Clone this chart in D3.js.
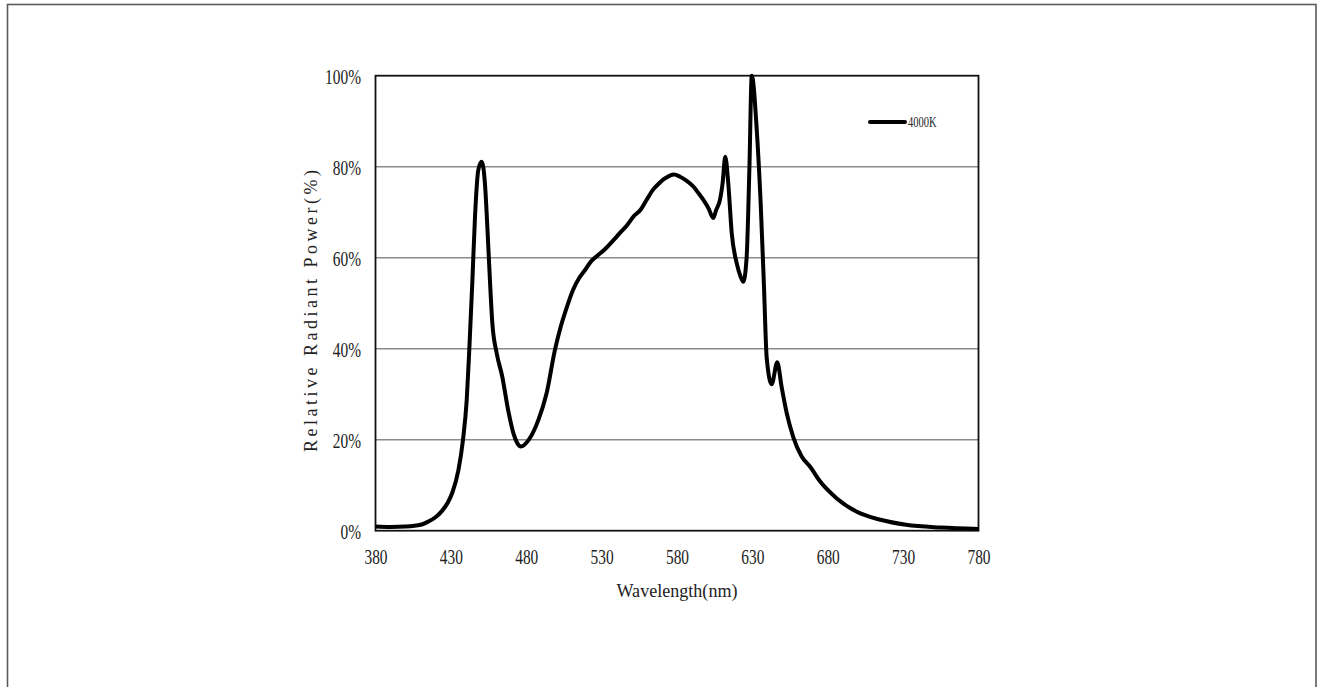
<html>
<head>
<meta charset="utf-8">
<style>
    body { margin: 0; background: #fff; }
    svg { display: block; }
    .grid line { stroke: #8a8a8a; stroke-width: 1.5; }
    .axis .domain { display: none; }
    .axis text { font-family: 'Liberation Serif', 'DejaVu Serif', serif; font-size: 22px; fill: #222; }
</style>
</head>
<body>
<svg width="1320" height="687"></svg>

<script src="https://d3js.org/d3.v7.min.js"></script>
<script>

    // spectrum: wavelength (nm) and relative power (%)
    let wavelength = [380, 390, 400, 410, 415, 420, 424, 428, 431, 435, 438, 440.5, 442.2, 444.2, 446, 448.2, 450.4,
        452.6, 454.4, 456, 457.5, 460.4, 464, 468, 471.5, 474, 476.5, 481.5, 488, 493.5, 499, 503, 507, 511,
        515, 519, 523, 527, 532, 538, 542, 547, 551, 556, 560, 564, 568, 571, 575, 578, 582, 586, 591, 594,
        597.5, 601, 604, 606, 608.5, 610.3, 612, 614, 616.3, 619.6, 622, 624, 626.2, 628, 629.6, 632.9, 635.5,
        637.7, 639.5, 642.8, 646.5, 649.4, 652.8, 657, 662.7, 668.2, 675, 686, 699, 715, 732, 755, 780]
    let power = [0.9, 0.8, 0.9, 1.3, 2.0, 3.0, 4.3, 6.2, 8.4, 13.3, 19.9, 28.7, 39.7, 54.4, 69, 79.3, 81.1,
        76.3, 65.4, 54.4, 45.6, 39, 34, 26.5, 21.4, 19.3, 18.5, 19.9, 24.3, 30.2, 39.7, 45, 49.2, 52.9,
        55.5, 57.3, 59.2, 60.4, 61.8, 63.9, 65.4, 67.2, 69, 70.6, 72.8, 74.9, 76.3, 77.2, 78, 78.3, 77.8, 77, 75.6, 74.3,
        72.7, 70.8, 68.7, 70.5, 72.7, 76.5, 82.2, 76.4, 65.4, 58.8, 56, 54.7, 60.2, 79.3, 100, 88.1, 72,
        53.6, 38, 32.2, 37, 31.6, 25.8, 20.7, 16.3, 14.1, 10.8, 7.1, 4.2, 2.4, 1.3, 0.7, 0.4]

    let xTicks = [380, 430, 480, 530, 580, 630, 680, 730, 780]
    let yTicks = [0, 20, 40, 60, 80, 100]
    let seriesName = "4000K"

    let data = wavelength.map((w, i) => ({ w: w, p: power[i] }))

    let svg = d3.select("svg")
    let margin = { top: 75.7, right: 341.5, bottom: 156.3, left: 375.5 }
    let width = 1320, height = 687
    let squeeze = 0.7

    // outer frame
    svg.append("rect")
        .attr("x", 7.5).attr("y", 4.5)
        .attr("width", 1308.5).attr("height", 700)
        .attr("fill", "none")
        .attr("stroke", "#5a5a5a")
        .attr("stroke-width", 1.6)

    let x = d3.scaleLinear()
        .domain([380, 780])
        .range([margin.left, width - margin.right])

    let y = d3.scaleLinear()
        .domain([0, 100])
        .range([height - margin.bottom, margin.top])

    // horizontal grid
    svg.append("g")
        .attr("class", "grid")
        .selectAll("line")
        .data(yTicks.filter(d => d > 0 && d < 100))
        .join("line")
        .attr("x1", x(380)).attr("x2", x(780))
        .attr("y1", d => y(d)).attr("y2", d => y(d))

    let xAxis = svg.append("g")
        .attr("class", "x axis")
        .attr("transform", `translate(0, ${y(0)})`)
        .call(d3.axisBottom(x).tickValues(xTicks).tickSize(0).tickFormat(d3.format("d")))

    xAxis.selectAll("text")
        .attr("y", 33.5).attr("dy", 0)
        .attr("transform", `scale(${squeeze},1)`)

    let yAxis = svg.append("g")
        .attr("class", "y axis")
        .attr("transform", `translate(${x(380)}, 0)`)
        .call(d3.axisLeft(y).tickValues(yTicks).tickSize(0).tickFormat(d => d + "%"))

    yAxis.selectAll("text")
        .attr("x", -14.5 / squeeze).attr("dy", 0).attr("y", 8)
        .attr("transform", `scale(${squeeze},1)`)

    // plot frame
    svg.append("rect")
        .attr("x", x(380)).attr("y", y(100))
        .attr("width", x(780) - x(380)).attr("height", y(0) - y(100))
        .attr("fill", "none")
        .attr("stroke", "#111")
        .attr("stroke-width", 1.8)

    let line = d3.line()
        .x(d => x(d.w))
        .y(d => y(d.p))
        .curve(d3.curveMonotoneX)

    svg.append("path")
        .datum(data)
        .attr("d", line)
        .attr("fill", "none")
        .attr("stroke", "#000")
        .attr("stroke-width", 4)
        .attr("stroke-linejoin", "round")

    // legend
    svg.append("line")
        .attr("x1", 870).attr("x2", 905)
        .attr("y1", 122).attr("y2", 122)
        .attr("stroke", "#000")
        .attr("stroke-width", 4)
        .attr("stroke-linecap", "round")

    svg.append("text")
        .attr("x", 908 / squeeze).attr("y", 127)
        .attr("transform", `scale(${squeeze},1)`)
        .style("font-family", "'Liberation Serif', serif")
        .style("font-size", "15px")
        .style("fill", "#222")
        .text(seriesName)

    // axis titles
    svg.append("text")
        .attr("x", 677).attr("y", 597)
        .attr("text-anchor", "middle")
        .attr("textLength", 121)
        .attr("lengthAdjust", "spacingAndGlyphs")
        .style("font-family", "'Liberation Serif', serif")
        .style("font-size", "19px")
        .style("fill", "#222")
        .text("Wavelength(nm)")

    svg.append("text")
        .attr("transform", "translate(317, 311) rotate(-90)")
        .attr("text-anchor", "middle")
        .attr("textLength", 282)
        .attr("lengthAdjust", "spacing")
        .style("font-family", "'Liberation Serif', serif")
        .style("font-size", "18px")
        .style("fill", "#222")
        .text("Relative Radiant Power(%)")

</script>
</body>
</html>
